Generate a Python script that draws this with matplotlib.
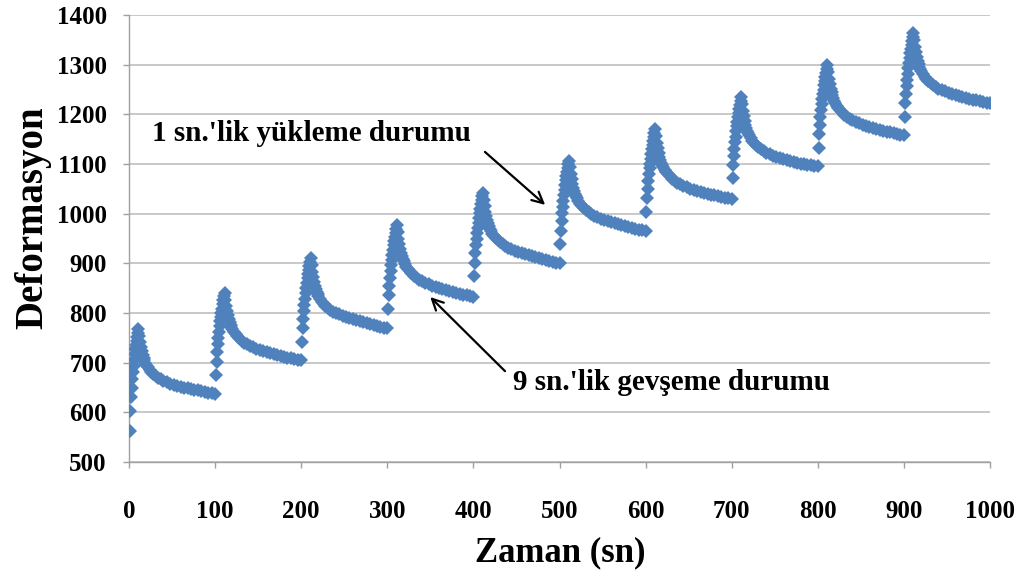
import matplotlib
matplotlib.use("Agg")
import matplotlib.pyplot as plt

plt.rcParams['font.family'] = ['Liberation Serif', 'DejaVu Serif']
plt.rcParams['font.weight'] = 'bold'

# cycle start times (s)
cycle_starts = [0, 100, 200, 300, 400, 500, 600, 700, 800, 900]

# time offsets within a cycle (s)
rise_offsets = [1.0, 1.7, 2.4, 3.1, 3.8, 4.6, 5.3, 6.0, 6.7, 7.4, 8.1, 8.9, 9.6, 10.3, 11.0]
relax_offsets = [12, 13, 14, 15, 16, 17, 18, 19, 20, 22, 24, 26, 28, 31, 34, 37, 40,
                 44, 48, 52, 56, 60, 64, 68, 72, 76, 80, 84, 88, 92, 96, 100]

# loading (rise) values per cycle
rise_c0 = [563, 603, 630, 650, 667, 681, 694, 706, 717, 727, 736, 744, 752, 760, 767]
rise_c1 = [675, 702, 721, 737, 750, 762, 773, 783, 792, 801, 809, 818, 826, 834, 841]
rise_c2 = [742, 769, 788, 804, 817, 829, 840, 850, 860, 870, 878, 887, 895, 903, 910]
rise_c3 = [809, 836, 855, 871, 884, 896, 907, 917, 927, 937, 945, 954, 962, 970, 977]
rise_c4 = [874, 901, 920, 936, 949, 961, 972, 982, 992, 1002, 1010, 1019, 1027, 1035, 1042]
rise_c5 = [939, 966, 985, 1001, 1014, 1026, 1037, 1047, 1057, 1067, 1075, 1084, 1092, 1100, 1107]
rise_c6 = [1004, 1031, 1050, 1066, 1079, 1091, 1101, 1111, 1121, 1130, 1138, 1147, 1155, 1163, 1170]
rise_c7 = [1071, 1097, 1116, 1131, 1144, 1155, 1166, 1176, 1185, 1195, 1203, 1211, 1219, 1227, 1234]
rise_c8 = [1133, 1160, 1179, 1195, 1208, 1220, 1230, 1240, 1250, 1259, 1267, 1276, 1284, 1292, 1299]
rise_c9 = [1195, 1222, 1241, 1257, 1270, 1282, 1293, 1303, 1313, 1323, 1331, 1340, 1348, 1356, 1363]

# relaxation values per cycle
relax_c0 = [754, 742, 732, 723, 716, 710, 705, 700, 696, 691, 686, 682, 678, 674, 670, 667, 664,
            661, 658, 656, 654, 652, 650, 648, 647, 645, 644, 642, 640, 639, 638, 636]
relax_c1 = [827, 815, 804, 796, 788, 782, 776, 772, 768, 762, 757, 753, 749, 744, 740, 737, 734,
            731, 728, 725, 723, 721, 719, 717, 715, 713, 712, 710, 709, 707, 706, 705]
relax_c2 = [896, 883, 872, 863, 855, 849, 843, 838, 834, 828, 823, 819, 815, 810, 806, 803, 800,
            797, 794, 791, 789, 787, 785, 783, 781, 779, 777, 775, 773, 772, 770, 769]
relax_c3 = [963, 949, 938, 929, 921, 915, 909, 904, 899, 893, 888, 884, 880, 875, 871, 867, 864,
            861, 858, 855, 853, 851, 849, 847, 845, 843, 841, 839, 837, 836, 834, 833]
relax_c4 = [1028, 1015, 1004, 995, 987, 981, 975, 970, 966, 960, 955, 951, 947, 942, 938, 934, 931,
            928, 925, 922, 920, 918, 916, 914, 912, 910, 908, 906, 904, 903, 901, 900]
relax_c5 = [1093, 1080, 1069, 1060, 1052, 1046, 1040, 1035, 1031, 1025, 1020, 1016, 1012, 1007, 1003, 999, 996,
            993, 990, 987, 985, 983, 981, 979, 977, 975, 973, 971, 970, 968, 967, 966]
relax_c6 = [1156, 1143, 1132, 1123, 1115, 1109, 1103, 1098, 1094, 1088, 1083, 1079, 1075, 1070, 1066, 1062, 1059,
            1056, 1053, 1050, 1048, 1046, 1044, 1042, 1040, 1038, 1037, 1035, 1033, 1032, 1031, 1030]
relax_c7 = [1220, 1207, 1196, 1187, 1179, 1173, 1167, 1162, 1158, 1152, 1147, 1143, 1139, 1134, 1130, 1126, 1123,
            1120, 1117, 1114, 1112, 1110, 1108, 1106, 1104, 1102, 1101, 1099, 1098, 1097, 1096, 1095]
relax_c8 = [1285, 1272, 1261, 1252, 1244, 1238, 1232, 1227, 1223, 1217, 1212, 1208, 1204, 1199, 1195, 1191, 1188,
            1185, 1182, 1179, 1177, 1175, 1173, 1171, 1169, 1167, 1165, 1164, 1162, 1160, 1159, 1158]
relax_c9 = [1349, 1336, 1325, 1316, 1308, 1302, 1296, 1291, 1287, 1281, 1276, 1272, 1268, 1263, 1259, 1255, 1252,
            1249, 1246, 1243, 1241, 1239, 1237, 1235, 1233, 1231, 1229, 1228, 1226, 1224, 1223, 1222]

rise_values = [rise_c0, rise_c1, rise_c2, rise_c3, rise_c4, rise_c5, rise_c6, rise_c7, rise_c8, rise_c9]
relax_values = [relax_c0, relax_c1, relax_c2, relax_c3, relax_c4, relax_c5, relax_c6, relax_c7, relax_c8, relax_c9]

x_ticks = [0, 100, 200, 300, 400, 500, 600, 700, 800, 900, 1000]
y_ticks = [500, 600, 700, 800, 900, 1000, 1100, 1200, 1300, 1400]

x_label = "Zaman (sn)"
y_label = "Deformasyon"
note_loading = "1 sn.'lik yükleme durumu"
note_relax = "9 sn.'lik gevşeme durumu"

blue = '#4F81BD'
grid_c = '#BFBFBF'

fig = plt.figure(figsize=(10.25, 5.84), dpi=100)
ax = fig.add_axes([129 / 1025, 1 - 462 / 584, 861 / 1025, 447 / 584])

times, values = [], []
for start, rv, dv in zip(cycle_starts, rise_values, relax_values):
    times += [start + o for o in rise_offsets] + [start + o for o in relax_offsets]
    values += rv + dv
ax.plot(times, values, linestyle='none', marker='D', markersize=7.2,
        markeredgewidth=0, color=blue, zorder=3)

ax.set_xlim(0, 1000)
ax.set_ylim(500, 1400)
ax.set_xticks(x_ticks)
ax.set_yticks(y_ticks)
ax.set_xticklabels([str(v) for v in x_ticks])
ax.set_yticklabels([str(v) for v in y_ticks])

ax.grid(axis='y', color=grid_c, linewidth=1.2, zorder=0)
ax.set_axisbelow(True)
for s in ['top', 'right']:
    ax.spines[s].set_visible(False)
for s in ['left', 'bottom']:
    ax.spines[s].set_color('#A0A0A0')
    ax.spines[s].set_linewidth(1.0)

ax.tick_params(axis='both', direction='out', length=4, width=1, color='#A0A0A0',
               labelsize=18)
ax.tick_params(axis='x', pad=23)
ax.tick_params(axis='y', pad=12)
for lab in ax.get_xticklabels() + ax.get_yticklabels():
    lab.set_fontweight('bold')

ax.set_xlabel(x_label, fontsize=25, fontweight='bold')
ax.set_ylabel(y_label, fontsize=28, fontweight='bold')
ax.xaxis.label.set_va('center')
ax.yaxis.label.set_va('center')
ax.xaxis.set_label_coords(0.5006, -0.2036)
ax.yaxis.set_label_coords(-0.1115, 0.546)

ax.text(26.7, 1162, note_loading, fontsize=21, fontweight='bold', ha='left', va='center')
ax.text(446, 661, note_relax, fontsize=21, fontweight='bold', ha='left', va='center')

ax.annotate('', xy=(485.8, 1014), xytext=(411, 1128),
            arrowprops=dict(arrowstyle='->,head_length=0.8,head_width=0.4', color='black', lw=1.6))
ax.annotate('', xy=(347.6, 836), xytext=(439, 679),
            arrowprops=dict(arrowstyle='->,head_length=0.8,head_width=0.4', color='black', lw=1.6))

fig.savefig('out.png', dpi=100, facecolor='white')
